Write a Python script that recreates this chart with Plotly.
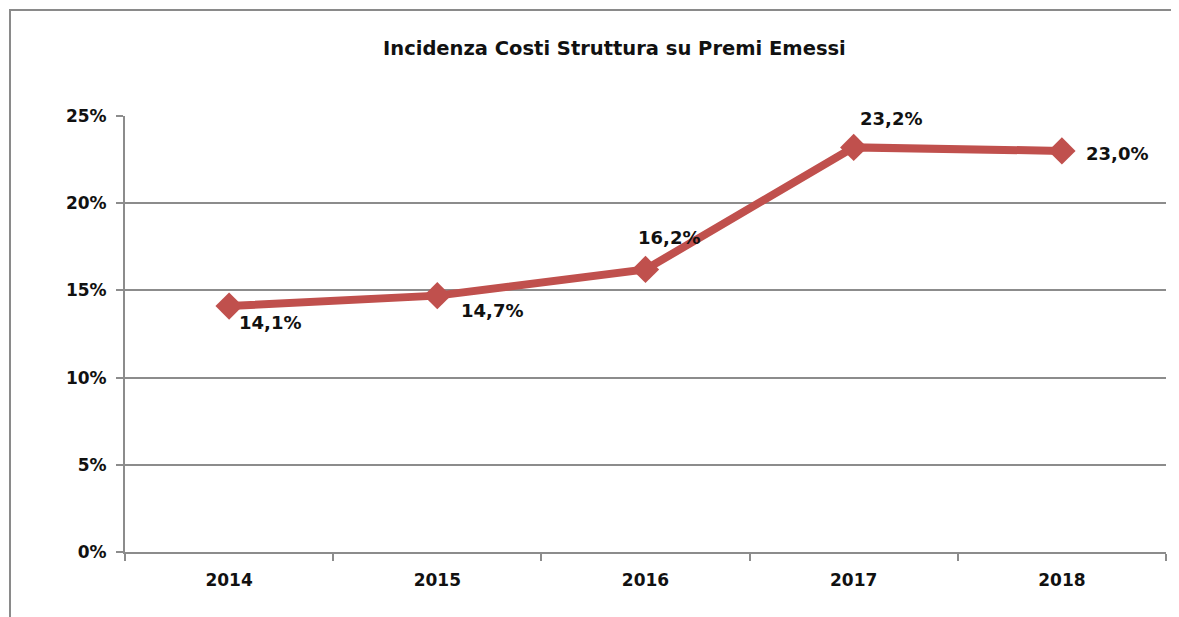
import plotly.graph_objects as go

years = ["2014", "2015", "2016", "2017", "2018"]
incidenza = [0.141, 0.147, 0.162, 0.232, 0.230]
labels = ["14,1%", "14,7%", "16,2%", "23,2%", "23,0%"]

# pixel offsets of the value labels relative to each marker
label_dx = [41, 55, 23, 37, 55]
label_dy = [-16, -15, 32, 29, -3]

FONT = "DejaVu Sans"
GRID = "#8c8c8c"
RED = "#c0504d"
INK = "#111111"

# the page adds an 8px body margin, so figure coords = page coords - 8
OFF = 8
W, H = 1179, 617
L, T = 125 - OFF, 116 - OFF
R, B = W - (1166 - OFF), H - (552 - OFF)
pw, ph = W - L - R, H - T - B


def px(x):
    return (x - OFF - L) / pw


def py(y):
    return 1 - (y - OFF - T) / ph


fig = go.Figure()
fig.add_trace(go.Scatter(
    x=years,
    y=incidenza,
    mode="lines+markers",
    line={"color": RED, "width": 8},
    marker={"symbol": "diamond", "size": 21, "color": RED},
    showlegend=False,
))

for i, (v, txt, dx, dy) in enumerate(zip(incidenza, labels, label_dx, label_dy)):
    fig.add_annotation(
        x=i, y=v, text=f"<b>{txt}</b>", showarrow=False,
        xshift=dx, yshift=dy, font={"family": FONT, "size": 18, "color": INK},
    )

fig.add_annotation(
    x=px(614), y=py(48), xref="paper", yref="paper", xanchor="center", yanchor="middle",
    text="<b>Incidenza Costi Struttura su Premi Emessi</b>", showarrow=False,
    font={"family": FONT, "size": 19.5, "color": INK},
)

# outer chart frame (right and bottom sides fall outside the picture)
fig.add_shape(
    type="rect", xref="paper", yref="paper",
    x0=px(10), x1=px(1200), y0=py(640), y1=py(10),
    line={"color": "#8a8a8a", "width": 2},
)

tick_font = {"family": FONT, "size": 17, "color": INK, "weight": "bold"}
fig.update_xaxes(
    type="category",
    showgrid=False,
    showline=True, linecolor=GRID, linewidth=2,
    ticks="outside", tickson="boundaries", ticklen=7, tickcolor=GRID, tickwidth=2,
    tickfont=tick_font, ticklabelstandoff=12,
    range=[-0.5, 4.5],
)
fig.update_yaxes(
    range=[0, 0.25], dtick=0.05, tickformat=".0%",
    showgrid=True, gridcolor=GRID, gridwidth=2,
    showline=True, linecolor=GRID, linewidth=2,
    ticks="outside", ticklen=7, tickcolor=GRID, tickwidth=2,
    tickfont=tick_font, ticklabelstandoff=6,
    zeroline=False,
)
fig.update_layout(
    width=W, height=H,
    margin={"l": L, "r": R, "t": T, "b": B},
    plot_bgcolor="white", paper_bgcolor="white",
    font={"family": FONT},
    hovermode=False,
)

fig.write_html("out.html")
